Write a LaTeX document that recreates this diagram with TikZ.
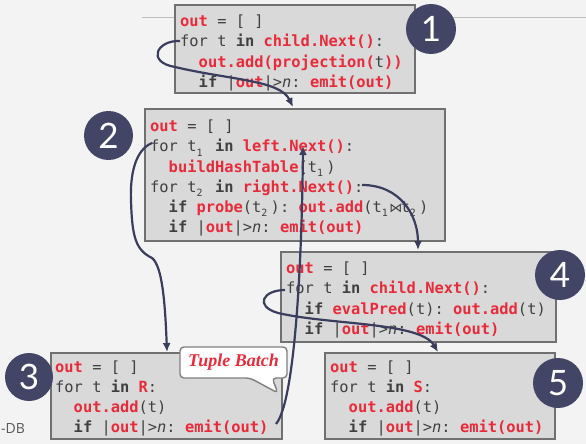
\documentclass[tikz,border=0pt]{standalone}
\usepackage{fontspec}
\setmonofont{DejaVu Sans Mono}
\newfontfamily\symfont{DejaVu Sans}
\newfontfamily\numfont{Lato}
\newfontfamily\calloutfont{Liberation Serif}
\newfontfamily\footfont{Open Sans}
\usetikzlibrary{arrows.meta}

\definecolor{codered}{RGB}{232,42,58}
\definecolor{codegray}{RGB}{64,64,64}
\definecolor{boxfill}{RGB}{217,217,217}
\definecolor{boxline}{RGB}{112,112,112}
\definecolor{badgefill}{RGB}{67,69,102}
\definecolor{flow}{RGB}{58,61,94}
\definecolor{paper}{RGB}{243,243,243}
\definecolor{rule}{RGB}{190,190,190}

% code highlighting helpers
\newcommand\rd[1]{\textcolor{codered}{\bfseries #1}}
\newcommand\kw[1]{{\bfseries #1}}
\newcommand\ind{\hspace*{1.204em}}
\newcommand\subi[1]{\makebox[0.602em][l]{\raisebox{-0.28em}{\fontsize{10}{10}\selectfont #1}}}
\newcommand\bowt{\makebox[0.602em]{\symfont\fontsize{13}{13}\selectfont ⋈}}
\newcommand\nvar{\textit{n}}

\begin{document}
\begin{tikzpicture}[x=1pt,y=-1pt,
  codebox/.style={draw=boxline, fill=boxfill, line width=1.4pt, inner sep=0pt},
  code/.style={anchor=north west, inner sep=0pt, align=left, text=codegray,
    font=\ttfamily\fontsize{15.4}{20.2}\selectfont},
  badge/.style={circle, fill=badgefill, inner sep=0pt, text=white,
    font=\numfont\fontsize{35}{35}\selectfont},
  flowline/.style={draw=flow, line width=2.2pt, -{Latex[length=9pt,width=8pt]}},
]
% page
\fill[paper] (0,0) rectangle (586,444);
\useasboundingbox (0,0) rectangle (586,444);
\draw[rule, line width=1pt] (142,17.5) -- (586,17.5);
\node[anchor=west, inner sep=0pt, text=black!65, font=\footfont\fontsize{14}{14}\selectfont] (footer) at (1,428) {-DB};

% operator boxes
\node[codebox, minimum width=240, minimum height=88] (box1) at (295,49) {};
\node[codebox, minimum width=300, minimum height=132] (box2) at (295,175) {};
\node[codebox, minimum width=231, minimum height=86] (box3) at (166.5,396) {};
\node[codebox, minimum width=275, minimum height=90] (box4) at (418.5,297) {};
\node[codebox, minimum width=230, minimum height=86] (box5) at (440,396) {};

% operator code
\node[code] (code1) at (180,12.4) {%
\strut\rd{out} = [ ]\\
\strut for t \kw{in} \rd{child.Next()}:\\
\strut\ind\rd{out.add(projection(}t\rd{))}\\
\strut\ind\kw{if} |\rd{out}|>\nvar: \rd{emit(out)}};

\node[code] (code2) at (150,117.4) {%
\strut\rd{out} = [ ]\\
\strut for t\subi{1} \kw{in} \rd{left.Next()}:\\
\strut\ind\rd{buildHashTable}(t\subi{1})\\
\strut for t\subi{2} \kw{in} \rd{right.Next()}:\\
\strut\ind\kw{if} \rd{probe}(t\subi{2}): \rd{out.add}(t\subi{1}\bowt t\subi{2})\\
\strut\ind\kw{if} |\rd{out}|>\nvar: \rd{emit(out)}};

\node[code] (code3) at (55,357.9) {%
\strut\rd{out} = [ ]\\
\strut for t \kw{in} \rd{R}:\\
\strut\ind\rd{out.add}(t)\\
\strut\ind\kw{if} |\rd{out}|>\nvar: \rd{emit(out)}};

\node[code] (code4) at (286,259.4) {%
\strut\rd{out} = [ ]\\
\strut for t \kw{in} \rd{child.Next()}:\\
\strut\ind\kw{if} \rd{evalPred}(t): \rd{out.add}(t)\\
\strut\ind\kw{if} |\rd{out}|>\nvar: \rd{emit(out)}};

\node[code] (code5) at (330,358) {%
\strut\rd{out} = [ ]\\
\strut for t \kw{in} \rd{S}:\\
\strut\ind\rd{out.add}(t)\\
\strut\ind\kw{if} |\rd{out}|>\nvar: \rd{emit(out)}};

% tuple batch callout
\draw[fill=white, draw=black!50, line width=1.4pt, rounded corners=4pt]
  (180,347) -- (287,347) -- (287,378) -- (272,378) -- (278,393) -- (250,378) -- (180,378) -- cycle;
\node[inner sep=0pt, text=codered, font=\calloutfont\bfseries\itshape\fontsize{18}{18}\selectfont]
  (batch) at (233.5,362.5) {Tuple Batch};

% data flow between operators
\coordinate (s1) at (180,41);
\coordinate (e1) at (293,107);
\coordinate (s2) at (152,143);
\coordinate (e2) at (167,352);
\coordinate (s3) at (276,424);
\coordinate (e3) at (303,146);
\coordinate (s4) at (362,185);
\coordinate (e4) at (418,250);
\coordinate (s5) at (285,290);
\coordinate (e5) at (438,352);

\draw[flowline] (s1) .. controls (157,40) and (146,62) .. (175,67)
  .. controls (230,80) and (280,80) .. (e1);
\draw[flowline] (s2) .. controls (135,150) and (130,175) .. (131,200)
  .. controls (132,238) and (136,250) .. (152,258)
  .. controls (162,266) and (165,300) .. (e2);
\draw[flowline] (s3) .. controls (296,400) and (302,250) .. (e3);
\draw[flowline] (s4) .. controls (400,185) and (418,215) .. (e4);
\draw[flowline] (s5) .. controls (263,290) and (254,306) .. (278,313)
  .. controls (330,325) and (420,322) .. (e5);

% step badges
\node[badge, minimum size=50pt] (n1) at (431,29) {1};
\node[badge, minimum size=49pt] (n2) at (108.5,135.5) {2};
\node[badge, minimum size=48pt] (n3) at (29,377) {3};
\node[badge, minimum size=50pt] (n4) at (560,275) {4};
\node[badge, minimum size=50pt] (n5) at (558,383) {5};
\end{tikzpicture}
\end{document}
